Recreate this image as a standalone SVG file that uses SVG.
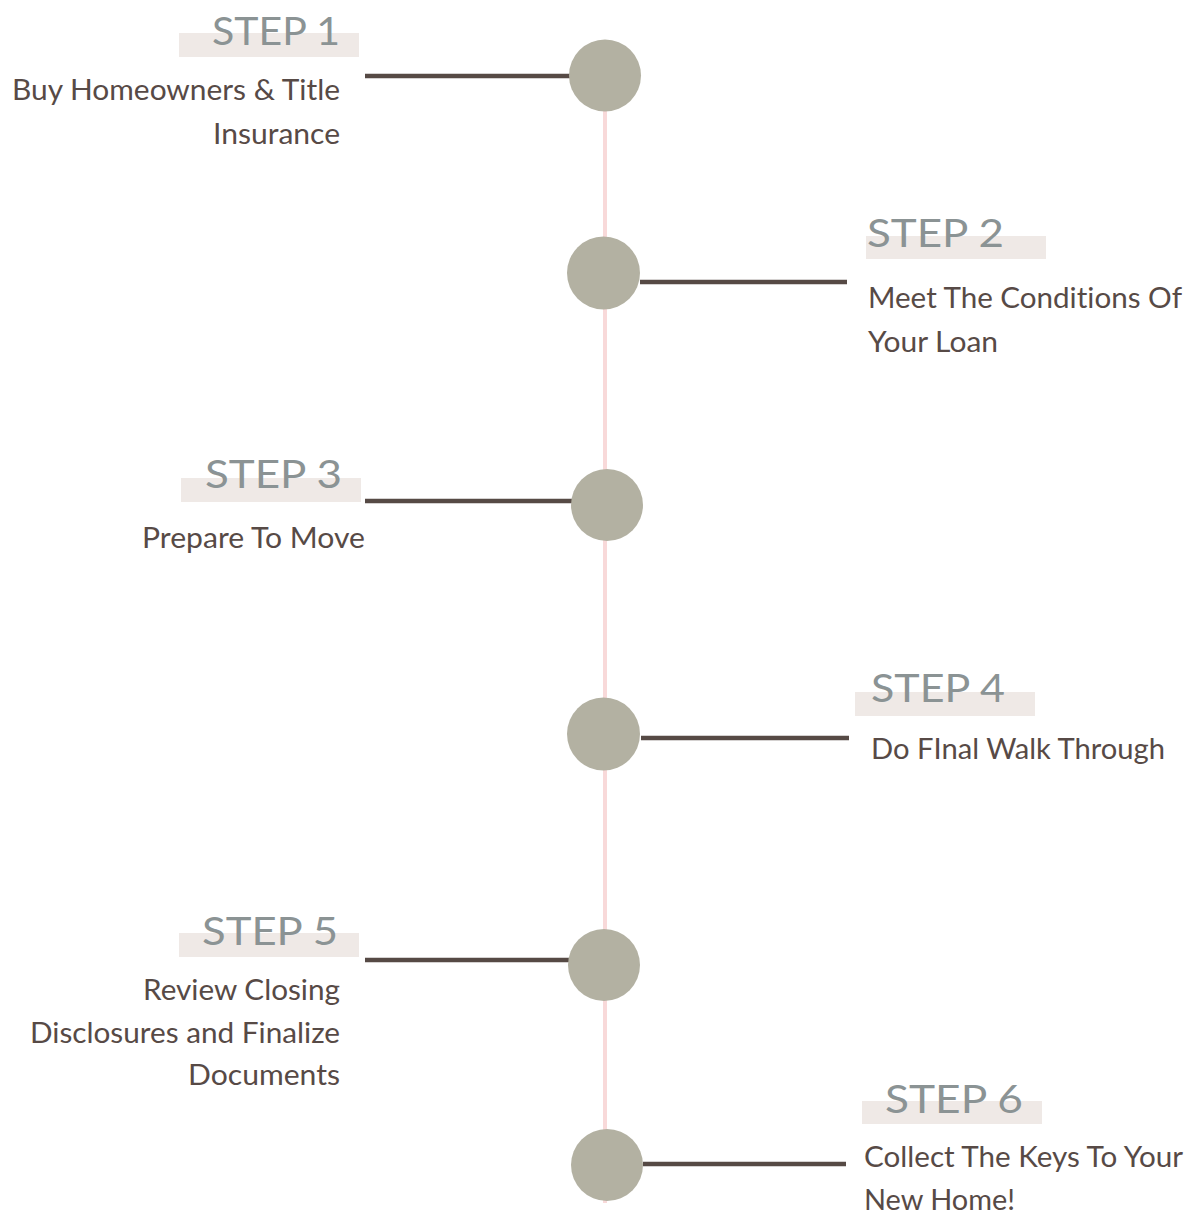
<svg xmlns="http://www.w3.org/2000/svg" width="1191" height="1214" viewBox="0 0 1191 1214">
<style>
.spine{stroke:#f8d9d9;stroke-width:4;fill:none}
.conn{stroke:#564a45;stroke-width:4.5;fill:none}
.dot{fill:#b3b1a2}
.tag{fill:#efe9e6}
.head{font-family:Lato,"Open Sans",sans-serif;font-weight:400;font-size:39px;fill:#8b9394;font-variant-ligatures:none}
.body{font-family:Lato,"Open Sans",sans-serif;font-size:28px;fill:#574a46;font-variant-ligatures:none}
</style>
<rect width="1191" height="1214" fill="#ffffff"/>
<g id="connectors">
<line class="spine" x1="605" y1="75" x2="605" y2="1203"/>
<line class="conn" x1="365" y1="76" x2="572" y2="76"/>
<line class="conn" x1="640" y1="282" x2="847" y2="282"/>
<line class="conn" x1="365" y1="501" x2="573" y2="501"/>
<line class="conn" x1="641" y1="738" x2="849" y2="738"/>
<line class="conn" x1="365" y1="960" x2="570" y2="960"/>
<line class="conn" x1="643" y1="1164" x2="846" y2="1164"/>
</g>
<g id="step1">
<circle class="dot" cx="605" cy="75.5" r="36"/>
<rect class="tag" x="179" y="33" width="180" height="24"/>
<text class="head" x="212" y="45" textLength="128" lengthAdjust="spacingAndGlyphs">STEP 1</text>
<text class="body" x="12" y="100" textLength="328" lengthAdjust="spacingAndGlyphs">Buy Homeowners &amp; Title</text>
<text class="body" x="213" y="144" textLength="127" lengthAdjust="spacingAndGlyphs">Insurance</text>
</g>
<g id="step2">
<circle class="dot" cx="603.5" cy="273" r="36.5"/>
<rect class="tag" x="866" y="236" width="180" height="23"/>
<text class="head" x="867" y="247" textLength="137" lengthAdjust="spacingAndGlyphs">STEP 2</text>
<text class="body" x="868" y="308" textLength="314" lengthAdjust="spacingAndGlyphs">Meet The Conditions Of</text>
<text class="body" x="868" y="352" textLength="130" lengthAdjust="spacingAndGlyphs">Your Loan</text>
</g>
<g id="step3">
<circle class="dot" cx="607" cy="505" r="36"/>
<rect class="tag" x="181" y="478" width="180" height="24"/>
<text class="head" x="205" y="488" textLength="137" lengthAdjust="spacingAndGlyphs">STEP 3</text>
<text class="body" x="142" y="548" textLength="223" lengthAdjust="spacingAndGlyphs">Prepare To Move</text>
</g>
<g id="step4">
<circle class="dot" cx="603.5" cy="734" r="36.5"/>
<rect class="tag" x="855" y="692" width="180" height="24"/>
<text class="head" x="871" y="702" textLength="134" lengthAdjust="spacingAndGlyphs">STEP 4</text>
<text class="body" x="871" y="759" textLength="294" lengthAdjust="spacingAndGlyphs">Do FInal Walk Through</text>
</g>
<g id="step5">
<circle class="dot" cx="604" cy="965" r="36"/>
<rect class="tag" x="179" y="933" width="180" height="24"/>
<text class="head" x="202" y="945" textLength="136" lengthAdjust="spacingAndGlyphs">STEP 5</text>
<text class="body" x="143" y="1000" textLength="197" lengthAdjust="spacingAndGlyphs">Review Closing</text>
<text class="body" x="30" y="1043" textLength="310" lengthAdjust="spacingAndGlyphs">Disclosures and Finalize</text>
<text class="body" x="188" y="1085" textLength="152" lengthAdjust="spacingAndGlyphs">Documents</text>
</g>
<g id="step6">
<circle class="dot" cx="607" cy="1165" r="36"/>
<rect class="tag" x="862" y="1101" width="180" height="23"/>
<text class="head" x="885" y="1113" textLength="138" lengthAdjust="spacingAndGlyphs">STEP 6</text>
<text class="body" x="864" y="1167" textLength="319" lengthAdjust="spacingAndGlyphs">Collect The Keys To Your</text>
<text class="body" x="864" y="1210" textLength="151" lengthAdjust="spacingAndGlyphs">New Home!</text>
</g>
</svg>
